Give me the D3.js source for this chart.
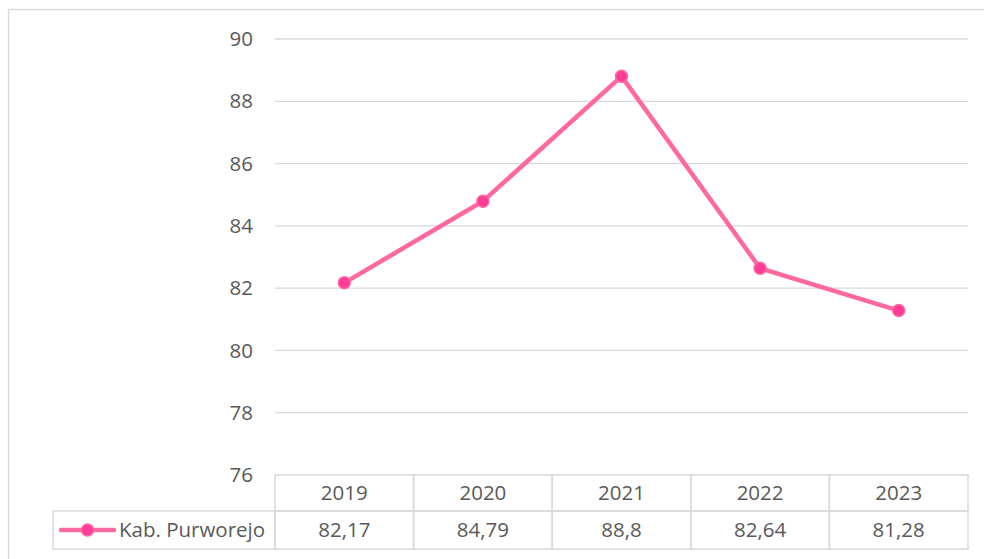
<!DOCTYPE html>
<html lang="en">
<head>
<meta charset="utf-8">
<title></title>
<style>
  body { margin: 0; background: #fff; }
  svg { display: block; font-family: "Open Sans", "Noto Sans", sans-serif; }
  .grid line { stroke: #d9d9d9; stroke-width: 1.3; }
  .tick-label { fill: #595959; font-size: 20.5px; }
  .cell { fill: none; stroke: #d9d9d9; stroke-width: 1.5; }
</style>
</head>
<body>
<div id="container"></div>
<script src="https://cdnjs.cloudflare.com/ajax/libs/d3/7.8.5/d3.min.js"></script>
<script>
// data
var years = ["2019", "2020", "2021", "2022", "2023"];
var values = [82.17, 84.79, 88.8, 82.64, 81.28];
var valueLabels = ["82,17", "84,79", "88,8", "82,64", "81,28"];
var yTicks = [76, 78, 80, 82, 84, 86, 88, 90];
var seriesName = "Kab. Purworejo";

var W = 984, H = 559;
var plot = {left: 275, right: 968, top: 39, bottom: 475};
var rowH = [36, 38];
var legendLeft = 53;

var svg = d3.select("#container").append("svg")
  .attr("width", W).attr("height", H);

// outer chart border (runs off the right and bottom of the picture)
svg.append("rect")
  .attr("x", 8.5).attr("y", 9.5)
  .attr("width", W).attr("height", H)
  .attr("fill", "none").attr("stroke", "#d9d9d9").attr("stroke-width", 1.5);

var x = d3.scaleBand().domain(years).range([plot.left, plot.right]);
var y = d3.scaleLinear().domain([76, 90]).range([plot.bottom, plot.top]);

// horizontal gridlines
svg.append("g").attr("class", "grid")
  .selectAll("line").data(yTicks.filter(function(t) { return t > 76; }))
  .enter().append("line")
  .attr("x1", plot.left).attr("x2", plot.right)
  .attr("y1", function(d) { return y(d); })
  .attr("y2", function(d) { return y(d); });

// y tick labels
svg.append("g").selectAll("text").data(yTicks)
  .enter().append("text")
  .attr("class", "tick-label")
  .attr("x", 253)
  .attr("y", function(d) { return y(d); })
  .attr("dy", "0.35em")
  .attr("text-anchor", "end")
  .text(function(d) { return d; });

// data table
var tbl = svg.append("g");
var r0 = plot.bottom, r1 = r0 + rowH[0], r2 = r1 + rowH[1];
years.forEach(function(yr, i) {
  var cx = x(yr);
  tbl.append("rect").attr("class", "cell")
    .attr("x", cx).attr("y", r0).attr("width", x.bandwidth()).attr("height", rowH[0]);
  tbl.append("rect").attr("class", "cell")
    .attr("x", cx).attr("y", r1).attr("width", x.bandwidth()).attr("height", rowH[1]);
  tbl.append("text").attr("class", "tick-label")
    .attr("x", cx + x.bandwidth() / 2).attr("y", (r0 + r1) / 2).attr("dy", "0.35em")
    .attr("text-anchor", "middle").text(yr);
  tbl.append("text").attr("class", "tick-label")
    .attr("x", cx + x.bandwidth() / 2).attr("y", (r1 + r2) / 2).attr("dy", "0.35em")
    .attr("text-anchor", "middle").text(valueLabels[i]);
});
tbl.append("rect").attr("class", "cell")
  .attr("x", legendLeft).attr("y", r1).attr("width", plot.left - legendLeft).attr("height", rowH[1]);

var lineColor = "#ff69a0", dotColor = "#ff3d99";
var ly = (r1 + r2) / 2;
tbl.append("line")
  .attr("x1", 61).attr("x2", 114).attr("y1", ly).attr("y2", ly)
  .attr("stroke", lineColor).attr("stroke-width", 4.5).attr("stroke-linecap", "round");
tbl.append("circle").attr("cx", 87.5).attr("cy", ly).attr("r", 6)
  .attr("fill", dotColor).attr("stroke", lineColor).attr("stroke-width", 1.5);
tbl.append("text").attr("class", "tick-label")
  .attr("x", 119).attr("y", ly).attr("dy", "0.35em").text(seriesName);

// series line and markers
var pts = years.map(function(yr, i) { return {year: yr, v: values[i]}; });
var line = d3.line()
  .x(function(d) { return x(d.year) + x.bandwidth() / 2; })
  .y(function(d) { return y(d.v); });

svg.append("path").datum(pts)
  .attr("d", line)
  .attr("fill", "none").attr("stroke", lineColor)
  .attr("stroke-width", 4.5).attr("stroke-linejoin", "round");

svg.append("g").selectAll("circle").data(pts)
  .enter().append("circle")
  .attr("cx", function(d) { return x(d.year) + x.bandwidth() / 2; })
  .attr("cy", function(d) { return y(d.v); })
  .attr("r", 6)
  .attr("fill", dotColor).attr("stroke", lineColor).attr("stroke-width", 1.5);
</script>
</body>
</html>
